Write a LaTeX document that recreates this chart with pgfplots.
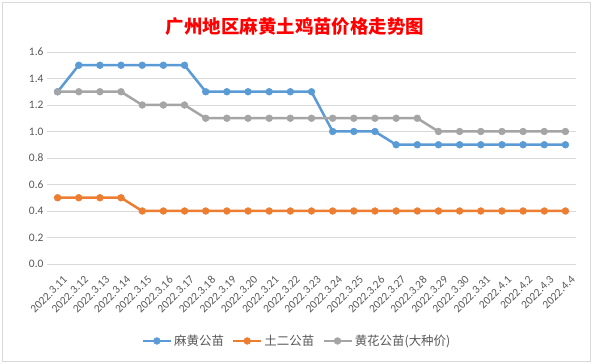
\documentclass[border=0pt]{standalone}
\usepackage{pgfplots}
\pgfplotsset{compat=1.18}
\usepackage{fontspec}
\setmainfont{Carlito}
\newfontfamily\cjk{Noto Sans CJK SC}
\definecolor{cblue}{HTML}{5B9BD5}
\definecolor{corange}{HTML}{ED7D31}
\definecolor{cgray}{HTML}{A5A5A5}
\definecolor{cgrid}{HTML}{D9D9D9}
\definecolor{ctext}{HTML}{595959}
\begin{document}
\begin{tikzpicture}
\path[use as bounding box] (0bp,0bp) rectangle (593bp,364bp);
\fill[white] (0bp,0bp) rectangle (593bp,364bp);
\draw[color=cgrid, line width=0.75bp] (2.5bp,3bp) rectangle (590bp,361.5bp);
\node[text=red, font=\cjk\bfseries\fontsize{18.5}{20}\selectfont] at (295bp,337bp) {广州地区麻黄土鸡苗价格走势图};
\begin{axis}[
  at={(47bp,100bp)}, anchor=south west,
  width=529bp, height=212bp, scale only axis,
  xmin=-0.5, xmax=24.5, ymin=0, ymax=1.6,
  ytick={0,0.2,0.4,0.6,0.8,1.0,1.2,1.4,1.6},
  /pgf/number format/assume math mode=true,
  yticklabel style={/pgf/number format/fixed, /pgf/number format/fixed zerofill, /pgf/number format/precision=1, font=\fontsize{11.5}{12}\selectfont, text=ctext},
  xtick={0,...,24},
  xticklabels={2022.3.11,2022.3.12,2022.3.13,2022.3.14,2022.3.15,2022.3.16,2022.3.17,2022.3.18,2022.3.19,2022.3.20,2022.3.21,2022.3.22,2022.3.23,2022.3.24,2022.3.25,2022.3.26,2022.3.27,2022.3.28,2022.3.29,2022.3.30,2022.3.31,2022.4.1,2022.4.2,2022.4.3,2022.4.4},
  xticklabel style={rotate=45, anchor=north east, font=\fontsize{11.5}{12}\selectfont, text=ctext, yshift=-8bp, xshift=-1bp},
  major tick length=0pt,
  axis line style={draw=none},
  ymajorgrids, grid style={color=cgrid, line width=0.75bp},
  legend columns=3,
  legend style={at={(0.4726,-0.363)}, anchor=center, draw=none, fill=none,
    font=\cjk\fontsize{12.5}{14}\selectfont, text=ctext,
    /tikz/every even column/.append style={column sep=6bp}},
  legend image code/.code={\draw[#1,mark repeat=2,mark phase=2] plot coordinates {(0bp,0bp)(14bp,0bp)(28bp,0bp)};},
  every axis plot/.append style={line width=2.5bp, mark=*, mark size=3.4bp},
]
\addplot[color=cblue, mark options={fill=cblue, draw=cblue, line width=0.5pt}] coordinates {
(0,1.3)(1,1.5)(2,1.5)(3,1.5)(4,1.5)(5,1.5)(6,1.5)(7,1.3)(8,1.3)(9,1.3)(10,1.3)(11,1.3)(12,1.3)(13,1.0)(14,1.0)(15,1.0)(16,0.9)(17,0.9)(18,0.9)(19,0.9)(20,0.9)(21,0.9)(22,0.9)(23,0.9)(24,0.9)};
\addlegendentry{麻黄公苗}
\addplot[color=corange, mark options={fill=corange, draw=corange, line width=0.5pt}] coordinates {
(0,0.5)(1,0.5)(2,0.5)(3,0.5)(4,0.4)(5,0.4)(6,0.4)(7,0.4)(8,0.4)(9,0.4)(10,0.4)(11,0.4)(12,0.4)(13,0.4)(14,0.4)(15,0.4)(16,0.4)(17,0.4)(18,0.4)(19,0.4)(20,0.4)(21,0.4)(22,0.4)(23,0.4)(24,0.4)};
\addlegendentry{土二公苗}
\addplot[color=cgray, mark options={fill=cgray, draw=cgray, line width=0.5pt}] coordinates {
(0,1.3)(1,1.3)(2,1.3)(3,1.3)(4,1.2)(5,1.2)(6,1.2)(7,1.1)(8,1.1)(9,1.1)(10,1.1)(11,1.1)(12,1.1)(13,1.1)(14,1.1)(15,1.1)(16,1.1)(17,1.1)(18,1.0)(19,1.0)(20,1.0)(21,1.0)(22,1.0)(23,1.0)(24,1.0)};
\addlegendentry{黄花公苗(大种价)}
\end{axis}
\end{tikzpicture}
\end{document}
